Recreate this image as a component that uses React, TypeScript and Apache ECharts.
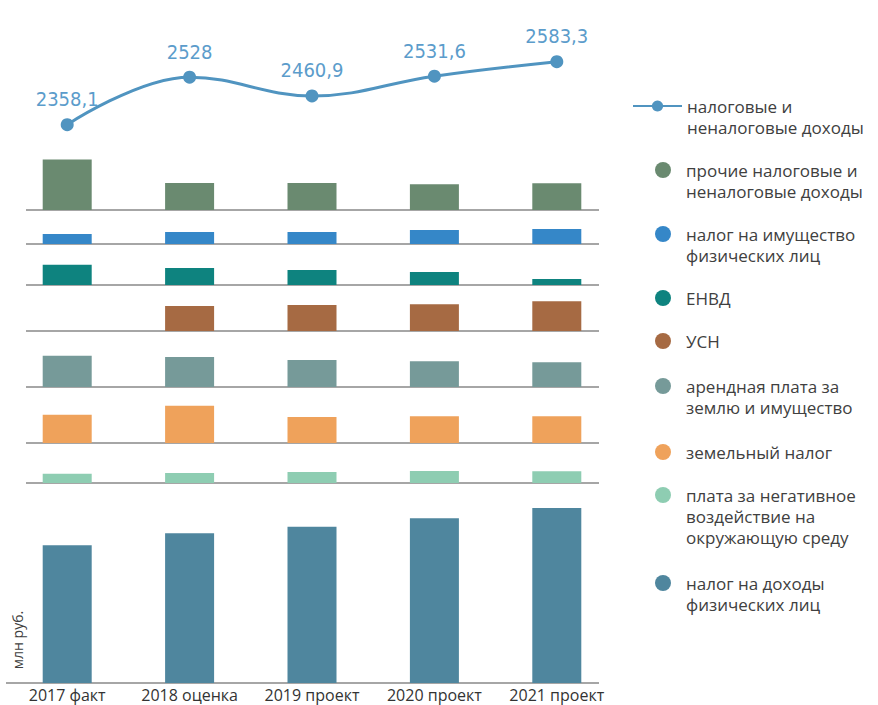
import React, { useEffect, useRef } from 'react';
import * as echarts from 'echarts';

// ---------- data (млн руб.) ----------
const categories = ['2017 факт', '2018 оценка', '2019 проект', '2020 проект', '2021 проект'];

const totalName = 'налоговые и\nненалоговые доходы';
const totalValues = [2358.1, 2528, 2460.9, 2531.6, 2583.3];

const otherName = 'прочие налоговые и\nненалоговые доходы';
const otherValues = [415, 222, 221, 212, 219];

const propertyTaxName = 'налог на имущество\nфизических лиц';
const propertyTaxValues = [83, 99, 98, 114, 122];

const envdName = 'ЕНВД';
const envdValues = [166, 140, 123, 106, 49];

const usnName = 'УСН';
const usnValues = [null, 206, 213, 220, 243];

const rentName = 'арендная плата за\nземлю и имущество';
const rentValues = [257, 247, 221, 212, 203];

const landTaxName = 'земельный налог';
const landTaxValues = [232, 305, 213, 220, 219];

const ecoFeeName = 'плата за негативное\nвоздействие на\nокружающую среду';
const ecoFeeValues = [75, 82, 90, 98, 97];

const ndflName = 'налог на доходы\nфизических лиц';
const ndflValues = [1130, 1227, 1282, 1351, 1434];

const unitLabel = 'млн руб.';

// ---------- styles / layout ----------
const W = 878;
const H = 705;
const PLOT_LEFT = 6;
const PLOT_W = 612;
const UNITS_PER_PX = 8.2; // common bar scale across all panels
const FONT = "'Open Sans', 'Noto Sans', sans-serif";
const LABEL_FONT = "'DejaVu Sans Condensed', 'Liberation Sans Narrow', sans-serif";
const LINE_COLOR = '#5094c0';
const LEGEND_LH = 21;
const LEGEND_FS = 17;
const ICON_W = 36;

const barPanels = [
  { name: otherName, values: otherValues, color: '#6a8a70', baseline: 210, height: 60, legendY: 170 },
  { name: propertyTaxName, values: propertyTaxValues, color: '#3587c8', baseline: 244, height: 32, legendY: 234 },
  { name: envdName, values: envdValues, color: '#0e837f', baseline: 285, height: 39, legendY: 298 },
  { name: usnName, values: usnValues, color: '#a66a43', baseline: 331, height: 44, legendY: 341 },
  { name: rentName, values: rentValues, color: '#769a99', baseline: 387, height: 54, legendY: 386 },
  { name: landTaxName, values: landTaxValues, color: '#efa25b', baseline: 443, height: 54, legendY: 452 },
  { name: ecoFeeName, values: ecoFeeValues, color: '#8ecdb2', baseline: 483, height: 38, legendY: 495 },
  { name: ndflName, values: ndflValues, color: '#4f869e', baseline: 683, height: 198, legendY: 583 },
];

const LINE_GRID = { top: 43, height: 98, min: 2300, max: 2650, legendY: 106 };

// circle icon sitting level with the first text line, in a box as tall as the text
function circleIcon(lines: number) {
  const h = LEGEND_LH * lines;
  const cy = LEGEND_LH / 2;
  return `path://M0 0L0 0M${ICON_W} ${h}L${ICON_W} ${h}M10 ${cy}a8 8 0 1 0 16 0a8 8 0 1 0 -16 0Z`;
}

function barLegend(name: string, centerY: number) {
  const n = name.split('\n').length;
  return {
    show: true,
    orient: 'vertical',
    left: 645,
    top: centerY - LEGEND_LH / 2,
    padding: 0,
    itemWidth: ICON_W,
    itemHeight: LEGEND_LH * n,
    selectedMode: false,
    data: [{ name, icon: circleIcon(n) }],
    textStyle: { fontFamily: FONT, fontSize: LEGEND_FS, color: '#404040', lineHeight: LEGEND_LH },
  };
}

function lineLegend(name: string, centerY: number) {
  const n = name.split('\n').length;
  return {
    show: true,
    orient: 'vertical',
    left: 632,
    top: centerY - (LEGEND_LH * (2 * n - 1)) / 2,
    padding: 0,
    itemWidth: 49,
    itemHeight: 14,
    selectedMode: false,
    data: [{ name }],
    formatter: (nm: string) => '\n'.repeat(nm.split('\n').length - 1) + nm,
    textStyle: { fontFamily: FONT, fontSize: LEGEND_FS, color: '#404040', lineHeight: LEGEND_LH },
  };
}

export default function App() {
  const ref = useRef<HTMLDivElement>(null);

  useEffect(() => {
    if (!ref.current) return;
    const chart = echarts.init(ref.current, undefined, { renderer: 'svg', width: W, height: H });

    const grids: any[] = [
      { left: PLOT_LEFT, width: PLOT_W, top: LINE_GRID.top, height: LINE_GRID.height },
      ...barPanels.map((p) => ({
        left: PLOT_LEFT,
        width: PLOT_W,
        top: p.baseline - p.height,
        height: p.height,
      })),
    ];

    const xAxes: any[] = grids.map((_, i) => ({
      type: 'category',
      gridIndex: i,
      data: categories,
      axisLine: { show: false },
      axisTick: { show: false },
      axisLabel: {
        show: i === grids.length - 1,
        fontFamily: FONT,
        fontSize: 16,
        color: '#333333',
        margin: 4,
        interval: 0,
      },
    }));

    const yAxes: any[] = [
      { type: 'value', gridIndex: 0, min: LINE_GRID.min, max: LINE_GRID.max, show: false },
      ...barPanels.map((p, i) => ({
        type: 'value',
        gridIndex: i + 1,
        min: 0,
        max: p.height * UNITS_PER_PX,
        show: false,
      })),
    ];

    const series: any[] = [
      {
        name: totalName,
        type: 'line',
        xAxisIndex: 0,
        yAxisIndex: 0,
        data: totalValues,
        smooth: 0.4,
        symbol: 'circle',
        symbolSize: 13,
        lineStyle: { color: LINE_COLOR, width: 3 },
        itemStyle: { color: LINE_COLOR },
        label: {
          show: true,
          position: 'top',
          distance: 9,
          fontFamily: LABEL_FONT,
          fontSize: 20,
          color: '#5b9ccb',
          formatter: (p: any) => String(p.value).replace('.', ','),
        },
      },
      ...barPanels.map((p, i) => ({
        name: p.name,
        type: 'bar',
        xAxisIndex: i + 1,
        yAxisIndex: i + 1,
        data: p.values,
        barWidth: 49,
        itemStyle: { color: p.color },
      })),
    ];

    const graphics: any[] = barPanels.map((p, i) => ({
      type: 'line',
      silent: true,
      shape: {
        x1: i === barPanels.length - 1 ? 6 : 26,
        y1: p.baseline,
        x2: 599,
        y2: p.baseline,
      },
      style: { stroke: '#a6a6a6', lineWidth: 2 },
    }));
    graphics.push({
      type: 'text',
      x: 17,
      y: 640,
      rotation: Math.PI / 2,
      style: {
        text: unitLabel,
        fontFamily: FONT,
        fontSize: 14,
        fill: '#404040',
        align: 'center',
        verticalAlign: 'middle',
      },
    });

    const legends: any[] = [
      lineLegend(totalName, LINE_GRID.legendY),
      ...barPanels.map((p) => barLegend(p.name, p.legendY)),
    ];

    chart.setOption({
      animation: false,
      backgroundColor: '#ffffff',
      textStyle: { fontFamily: FONT },
      grid: grids,
      xAxis: xAxes,
      yAxis: yAxes,
      legend: legends,
      series,
      graphic: graphics,
    });

    return () => chart.dispose();
  }, []);

  return (
    <div
      ref={ref}
      style={{ position: 'fixed', left: 0, top: 0, width: W, height: H, background: '#fff' }}
    />
  );
}
